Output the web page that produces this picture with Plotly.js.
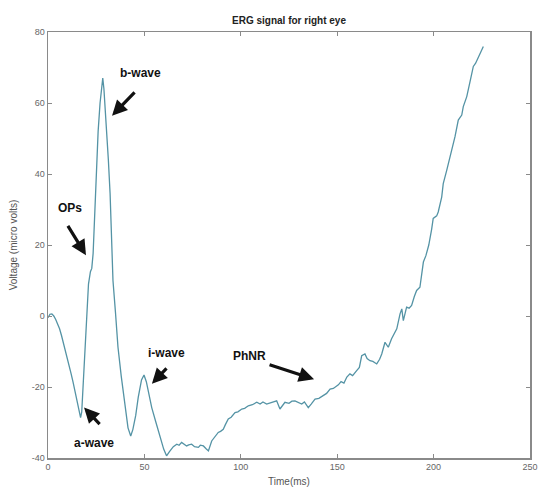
<!DOCTYPE html>
<html>
<head>
<meta charset="utf-8">
<script src="https://cdn.plot.ly/plotly-3.0.1.min.js"></script>
<style>html,body{margin:0;padding:0;background:#fff;}#chart{width:539px;height:494px;}</style>
</head>
<body>
<div id="chart"></div>
<script>
// Time (ms)
var timeMs = [0,1,2,3,4,5,6,7,8,9,10,11,12,13,14,15,16,16.9,17.5,18,19,20,21,22,22.7,23.4,24,25.2,26,27,28,28.4,29,30.4,31.3,32.2,33,33.7,35,36.3,38,39.9,41.5,42.9,44,45.5,46.8,48.5,49.8,51,52.5,53.8,56,58.1,60,61.2,
  61.5,63,65,66.8,68,69.3,71,71.9,73,74.5,76,78,79,80.6,82,83.2,84.9,86.5,88.3,89.5,90.9,92,93.5,95,97,98.5,100.5,102,103.9,106,108.3,110,111.5,113.4,115,117,118.6,120.3,122.9,125,126.5,128.1,130,131.6,133,135,136.5,138.5,140.5,142.8,144.5,146.3,148,150.6,152,153.5,155,156.6,158,160.1,161.5,162.7,164.4,165.5,167,168.5,170.5,172,173.1,174.8,176.5,178.2,179.5,180.9,182.6,183.5,184.3,186,187.3,188.6,190,191.2,192.9,194.7,196,197.5,199,199.8,201.6,202.4,204.2,205,206.8,208.5,210,211.1,212.8,214.6,215.4,217.2,218.9,220.6,221.8,223.2,224.5,225.8];
// Voltage (micro volts)
var voltage = [-0.5,0.5,0.6,0,-1,-2.2,-3.6,-5.5,-7.5,-9.6,-11.7,-14,-16.3,-18.6,-21.2,-24,-26.8,-28.6,-27,-22,-11,0,9,12.5,13.4,17.6,25,43.9,52,60,66,67,64,53.3,44,34.6,19.4,10,1,-8.8,-17,-25.8,-31.5,-33.8,-32,-28,-22.9,-18,-16.6,-18.5,-22,-25.8,-30,-34.2,-37.5,-39,
  -39.4,-38.2,-36.8,-36.1,-36.4,-35.6,-36.2,-36.6,-36.3,-36.1,-36.8,-37,-36.4,-36.6,-37.4,-38,-35.2,-34,-32.8,-32.5,-31.9,-30.6,-29,-28.5,-27.2,-27,-26.2,-26,-25.3,-25,-24.3,-24.8,-24.2,-24.8,-24.5,-24,-23.9,-26.2,-24.3,-24.6,-24,-23.9,-24.5,-24.8,-24.2,-25.8,-24.8,-23.4,-23.2,-22.5,-21.8,-20.6,-20.4,-19.4,-18.5,-18.9,-17.2,-16.3,-16.8,-15.4,-14.5,-11.2,-10.7,-12,-12.6,-12.8,-13.5,-12.2,-10.7,-7.4,-8.8,-6.4,-5.2,-3.6,0.6,2,-1.3,2.5,2.2,3,5.5,7.2,8.1,15.2,17,20,24.5,27.5,28.2,29.3,33.5,37.3,41,44.9,47.5,50.5,55.2,56.6,59,61.8,66,70.3,71.2,72.7,74.5,75.9];

var xTicks = [0,50,100,150,200,250];
var yTicks = [-40,-20,0,20,40,60,80];

// Labels: text, label position, arrow head, arrow tail offset (px)
var labelText = ['b-wave','OPs','a-wave','i-wave','PhNR'];
var labelX = [48.2, 11.4, 23.9, 61.7, 104.3];
var labelY = [68.5, 30.4, -35.7, -10.3, -11.2];
var headX = [33.2, 19.7, 18.7, 53.9, 138];
var headY = [56.4, 17.1, -25.8, -19.1, -17.8];
var tailDX = [24, -19, 17, 16, -46];
var tailDY = [-25, -31, 18, -17, -15];

var annotations = [];
for (var i = 0; i < labelText.length; i++) {
  annotations.push({x: labelX[i], y: labelY[i], xref:'x', yref:'y', text: '<b>'+labelText[i]+'</b>', showarrow:false,
    font:{family:'Liberation Sans, Arial, sans-serif', size:12, color:'#111'}});
  annotations.push({x: headX[i], y: headY[i], xref:'x', yref:'y', text:'', showarrow:true, ax: tailDX[i], ay: tailDY[i],
    arrowhead:2, arrowsize:0.95, arrowwidth:3.2, arrowcolor:'#111'});
}

var trace = {x: timeMs, y: voltage, type:'scatter', mode:'lines', line:{color:'#5493a5', width:1.3}, hoverinfo:'skip'};

var axisCommon = {showgrid:false, zeroline:false, showline:true, linecolor:'#8a8a8a', linewidth:1.5, mirror:'ticks',
  ticks:'inside', ticklen:4, tickcolor:'#8a8a8a', tickfont:{family:'Liberation Sans, Arial, sans-serif', size:9, color:'#666'}};

var layout = {
  width:539, height:494,
  margin:{l:48, r:9, t:32, b:36},
  paper_bgcolor:'#fff', plot_bgcolor:'#fff',
  showlegend:false,
  title:{text:'<b>ERG signal for right eye</b>', font:{family:'Liberation Sans, Arial, sans-serif', size:10, color:'#222'}, x:0.5, xref:'paper', y:0.958, yanchor:'middle'},
  xaxis: Object.assign({}, axisCommon, {range:[0,250], tickvals:xTicks, ticktext:xTicks.map(String), automargin:false,
    title:{text:'Time(ms)', font:{family:'Liberation Sans, Arial, sans-serif', size:10, color:'#555'}, standoff:6}}),
  yaxis: Object.assign({}, axisCommon, {range:[-40,80], tickvals:yTicks, ticktext:yTicks.map(String), automargin:false,
    title:{text:'Voltage (micro volts)', font:{family:'Liberation Sans, Arial, sans-serif', size:10, color:'#555'}, standoff:12}}),
  annotations: annotations
};

Plotly.newPlot('chart', [trace], layout, {displayModeBar:false, staticPlot:true});
</script>
</body>
</html>
